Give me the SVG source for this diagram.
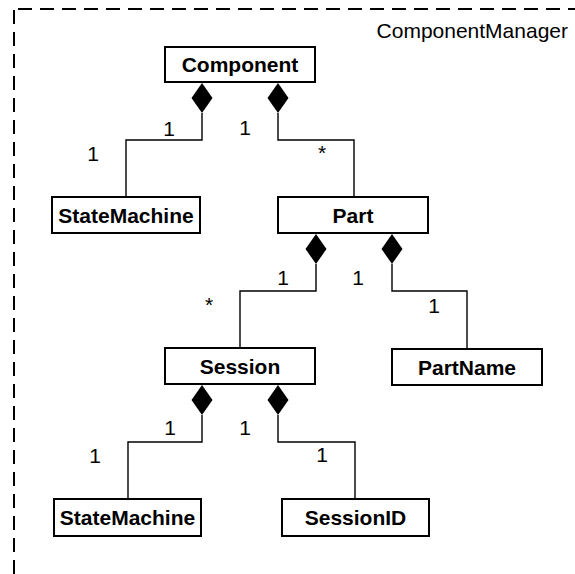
<svg xmlns="http://www.w3.org/2000/svg" xmlns:xlink="http://www.w3.org/1999/xlink" width="575" height="574" viewBox="0 0 575 574">
<style>
.box{fill:#fff;stroke:#000;stroke-width:2}
.name{font-family:"Liberation Sans",Arial,sans-serif;font-size:21px;font-weight:bold;text-anchor:middle;fill:#000}
.lbl{font-family:"Liberation Sans",Arial,sans-serif;font-size:21px;text-anchor:middle;fill:#000}
.conn{fill:none;stroke:#000;stroke-width:1.4}
.frame{fill:none;stroke:#000;stroke-width:2;stroke-dasharray:14 8}
</style>
<defs>
<polygon id="dia" points="0,0 10.5,15 0,30 -10.5,15" fill="#000"/>
</defs>
<rect width="575" height="574" fill="#fff"/>
<g id="frame">
<line class="frame" x1="14" y1="574" x2="14" y2="9"/>
<line class="frame" x1="18" y1="9" x2="575" y2="9"/>
<text class="lbl" x="568" y="37.5" style="text-anchor:end">ComponentManager</text>
</g>
<g id="connectors">
<path class="conn" d="M202,113 V140 H126 V196"/>
<path class="conn" d="M278,113 V140 H354 V196"/>
<path class="conn" d="M316,264 V291 H240 V347"/>
<path class="conn" d="M392,264 V291 H467 V348"/>
<path class="conn" d="M202,415 V442 H128 V498"/>
<path class="conn" d="M278,415 V442 H355 V498"/>
<use xlink:href="#dia" x="202" y="83"/>
<use xlink:href="#dia" x="278" y="83"/>
<use xlink:href="#dia" x="316" y="234"/>
<use xlink:href="#dia" x="392" y="234"/>
<use xlink:href="#dia" x="202" y="385"/>
<use xlink:href="#dia" x="278" y="385"/>
<text class="lbl" x="169" y="135.5">1</text>
<text class="lbl" x="93" y="160.5">1</text>
<text class="lbl" x="245" y="134.5">1</text>
<text class="lbl" x="322" y="160">*</text>
<text class="lbl" x="283" y="284.5">1</text>
<text class="lbl" x="209" y="312">*</text>
<text class="lbl" x="358" y="284.5">1</text>
<text class="lbl" x="434" y="312.5">1</text>
<text class="lbl" x="170" y="434.5">1</text>
<text class="lbl" x="95" y="462.5">1</text>
<text class="lbl" x="245" y="434.5">1</text>
<text class="lbl" x="322" y="461.5">1</text>
</g>
<g id="Component">
<rect class="box" x="165" y="47" width="150" height="35"/>
<text class="name" x="240" y="72">Component</text>
</g>
<g id="StateMachine1">
<rect class="box" x="52" y="197" width="148" height="36"/>
<text class="name" x="126" y="222.5">StateMachine</text>
</g>
<g id="Part">
<rect class="box" x="278" y="197" width="150" height="36"/>
<text class="name" x="353" y="222.5">Part</text>
</g>
<g id="Session">
<rect class="box" x="165" y="348" width="150" height="36"/>
<text class="name" x="240" y="373.5">Session</text>
</g>
<g id="PartName">
<rect class="box" x="392" y="349" width="150" height="36"/>
<text class="name" x="467" y="374.5">PartName</text>
</g>
<g id="StateMachine2">
<rect class="box" x="54" y="499" width="147" height="37"/>
<text class="name" x="127.5" y="525">StateMachine</text>
</g>
<g id="SessionID">
<rect class="box" x="282" y="499" width="147" height="37"/>
<text class="name" x="355.5" y="525">SessionID</text>
</g>
</svg>
